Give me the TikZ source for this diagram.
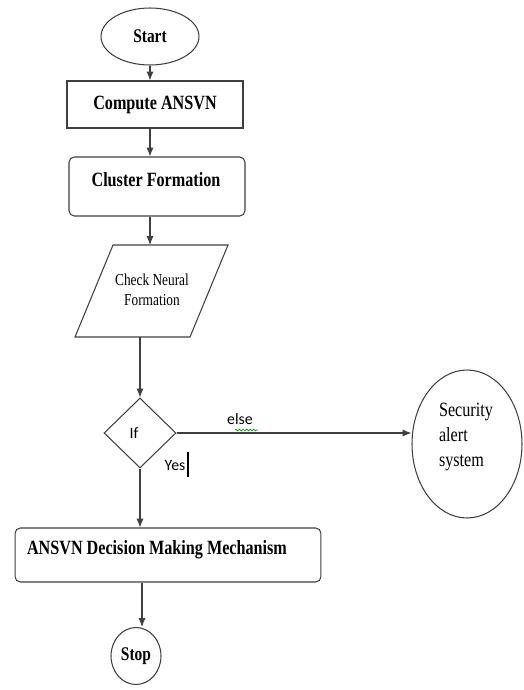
\documentclass[tikz,border=0pt]{standalone}
\usepackage{fontspec}
\setmainfont{Liberation Serif}[FakeStretch=0.8]
\newfontfamily\calfont{Carlito}
\usetikzlibrary{shapes,arrows.meta,decorations.pathmorphing}

\begin{document}
\begin{tikzpicture}[x=0.02cm,y=-0.02cm,
  line/.style={draw=black!75,line width=0.6pt},
  arr/.style={line,-{Latex[length=5pt,width=4pt]}},
  term/.style={line,ellipse,inner sep=0pt,font=\bfseries\fontsize{11}{13}\selectfont},
  procbox/.style={line,rectangle,inner sep=0pt},
  boxtext/.style={font=\bfseries\fontsize{11.5}{13}\selectfont},
  caltext/.style={font=\calfont\fontsize{9}{10}\selectfont}]
\useasboundingbox (0,0) rectangle (524,690);
% terminals and boxes
\node[term,minimum width=1.96cm,minimum height=1.14cm] (start) at (150,36.5) {Start};
\node[procbox,boxtext,minimum width=3.52cm,minimum height=0.94cm] (compute) at (155,104.5) {Compute ANSVN};
\node[procbox,rounded corners=3pt,minimum width=3.52cm,minimum height=1.18cm] (cluster) at (157,186.5) {};
\node[boxtext] (clustertxt) at (156,180) {Cluster Formation};
% input / output
\coordinate (chk-tl) at (113,245);
\coordinate (chk-tr) at (228,245);
\coordinate (chk-br) at (190,337);
\coordinate (chk-bl) at (75,337);
\draw[line] (chk-tl) -- (chk-tr) -- (chk-br) -- (chk-bl) -- cycle;
\node[font=\fontsize{9.5}{11.3}\selectfont,align=center] (chk) at (152,290) {Check Neural\\Formation};
% decision
\node[line,diamond,inner sep=0pt,minimum width=1.44cm,minimum height=1.4cm] (ifd) at (140,433) {};
\node[caltext] (iftxt) at (134,433) {If};
\node[caltext] (yestxt) at (175,465) {Yes};
\draw[black,line width=0.8pt] (188,452) -- (188,477);
\node[line,ellipse,inner sep=0pt,minimum width=2.2cm,minimum height=2.96cm] (alert) at (467,444) {};
\node[font=\fontsize{11.5}{14}\selectfont,align=left] (alerttxt) at (466,437) {Security\\alert\\system};
% decision making and stop
\node[procbox,rounded corners=3pt,minimum width=6.12cm,minimum height=1.08cm] (ansvn) at (168,555) {};
\node[boxtext] (ansvntxt) at (157,550) {ANSVN Decision Making Mechanism};
\node[term,minimum width=1.0cm,minimum height=1.14cm] (stop) at (136,656) {Stop};
% connectors
\draw[arr] (start.south) -- (start.south |- compute.north);
\draw[arr] (compute.south -| start) -- (cluster.north -| start);
\draw[arr] (cluster.south -| start) -- (chk-tl -| start);
\draw[arr] (chk-bl -| ifd) -- (ifd.north);
\draw[arr] (ifd.east) -- (ifd.east -| alert.west) node[pos=.27,above=1pt,caltext] (elsetxt) {else};
\draw[green!60!black,line width=0.4pt,decoration={snake,amplitude=0.5pt,segment length=2pt},decorate] (235,430) -- (258,430);
\draw[arr] (ifd.south) -- (ifd.south |- ansvn.north);
\draw[arr] (ansvn.south -| 142,0) -- (stop.north -| 142,0);
\end{tikzpicture}
\end{document}
